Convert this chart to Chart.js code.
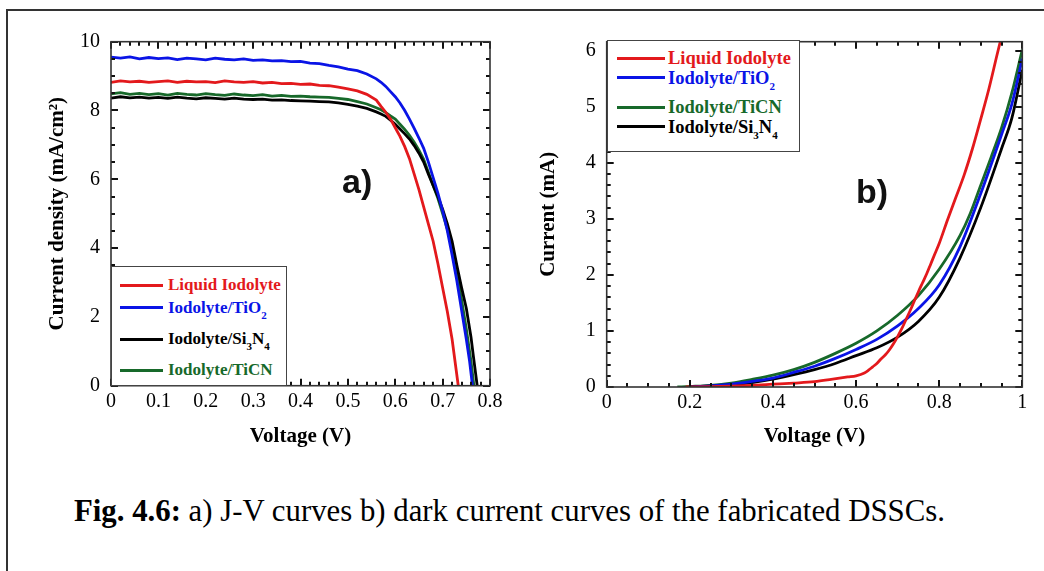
<!DOCTYPE html>
<html><head><meta charset="utf-8">
<script src="https://cdn.jsdelivr.net/npm/chart.js@4.4.0/dist/chart.umd.min.js"></script>
<style>
html,body{margin:0;padding:0;background:#fff;}
#page{position:relative;width:1044px;height:571px;overflow:hidden;background:#fff;}
#frame{position:absolute;left:6px;top:9px;width:1100px;height:600px;border-left:2px solid #333;border-top:2px solid #333;}
canvas{position:absolute;}
.lbox{position:absolute;border:1.5px solid #444;background:#fff;box-sizing:border-box;}
.sw{position:absolute;height:3px;}
.lt{position:absolute;font-family:'Liberation Serif','Times New Roman',serif;font-weight:bold;font-size:17px;line-height:20px;white-space:nowrap;}
.lt sub{font-size:11px;vertical-align:-6px;line-height:0;}
.tag{position:absolute;font-family:'Liberation Sans',Arial,sans-serif;font-weight:bold;font-size:34px;line-height:34px;color:#111;}
#cap{position:absolute;left:74px;top:494px;font-family:'Liberation Serif','Times New Roman',serif;font-size:30.8px;line-height:34px;white-space:nowrap;color:#000;}
</style></head>
<body><div id="page">
<div id="frame"></div>
<canvas id="ca" width="520" height="470" style="left:0;top:0"></canvas>
<canvas id="cb" width="524" height="470" style="left:520px;top:0"></canvas>
<div class="tag" style="left:342px;top:164px">a)</div>
<div class="tag" style="left:856px;top:174px">b)</div>
<div id="legA"></div>
<div id="legB"></div>
<div id="cap"><b>Fig. 4.6:</b> a) J-V curves b) dark current curves of the fabricated DSSCs.</div>
</div>
<script>
// ---------- Data: panel a) J-V curves ----------
const seriesNames = ['Liquid Iodolyte', 'Iodolyte/TiO2', 'Iodolyte/Si3N4', 'Iodolyte/TiCN'];
const seriesNamesHtml = ['Liquid Iodolyte', 'Iodolyte/TiO<sub>2</sub>', 'Iodolyte/Si<sub>3</sub>N<sub>4</sub>', 'Iodolyte/TiCN'];
const seriesColors = ['#e3191c', '#0a14e6', '#000000', '#17692a'];

const vFlat = [0,0.02,0.04,0.06,0.08,0.10,0.12,0.14,0.16,0.18,0.20,0.22,0.24,0.26,0.28,0.30,0.32,0.34,0.36,0.38,0.40,0.42,0.44,0.46,0.48,0.50,0.52,0.54,0.56];
const jFlatLiquid = [8.82,8.86,8.83,8.85,8.82,8.84,8.86,8.82,8.85,8.83,8.84,8.81,8.86,8.83,8.82,8.84,8.80,8.82,8.78,8.79,8.76,8.77,8.73,8.72,8.68,8.63,8.57,8.47,8.30];
const jFlatTiO2   = [9.55,9.52,9.56,9.50,9.54,9.51,9.53,9.48,9.52,9.50,9.47,9.52,9.49,9.47,9.50,9.46,9.47,9.44,9.45,9.42,9.43,9.38,9.36,9.31,9.27,9.20,9.16,9.06,8.92];
const jFlatSi3N4  = [8.36,8.40,8.37,8.39,8.36,8.38,8.35,8.39,8.36,8.34,8.37,8.35,8.33,8.36,8.33,8.32,8.33,8.30,8.31,8.29,8.28,8.27,8.26,8.25,8.22,8.18,8.13,8.06,7.96];
const jFlatTiCN   = [8.48,8.52,8.47,8.50,8.46,8.49,8.45,8.50,8.47,8.45,8.49,8.46,8.44,8.48,8.45,8.43,8.46,8.42,8.44,8.41,8.42,8.40,8.39,8.38,8.35,8.32,8.26,8.19,8.08];

const vKneeLiquid = [0.57,0.58,0.59,0.60,0.61,0.62,0.63,0.64,0.65,0.66,0.67,0.68,0.69,0.70,0.71,0.72,0.733];
const jKneeLiquid = [8.12,7.95,7.75,7.50,7.25,6.95,6.60,6.15,5.70,5.20,4.70,4.20,3.55,2.85,2.15,1.35,0];
const vKneeTiO2 = [0.57,0.58,0.59,0.60,0.61,0.62,0.63,0.64,0.65,0.66,0.67,0.68,0.69,0.70,0.71,0.72,0.73,0.74,0.75,0.757,0.763];
const jKneeTiO2 = [8.82,8.70,8.55,8.40,8.22,8.00,7.75,7.48,7.20,6.90,6.50,6.05,5.60,5.08,4.50,3.80,3.05,2.20,1.35,0.70,0];
const vKneeSi3N4 = [0.57,0.58,0.59,0.60,0.61,0.62,0.63,0.64,0.65,0.66,0.67,0.68,0.69,0.70,0.71,0.72,0.73,0.74,0.75,0.76,0.765,0.773];
const jKneeSi3N4 = [7.90,7.83,7.72,7.60,7.46,7.32,7.17,6.98,6.76,6.50,6.15,5.82,5.50,5.13,4.70,4.20,3.50,2.85,2.25,1.40,0.85,0];
const vKneeTiCN = [0.57,0.58,0.59,0.60,0.61,0.62,0.63,0.64,0.65,0.66,0.67,0.68,0.69,0.70,0.71,0.72,0.73,0.74,0.75,0.76,0.766];
const jKneeTiCN = [8.02,7.94,7.84,7.75,7.60,7.45,7.28,7.08,6.85,6.58,6.20,5.82,5.45,5.00,4.55,4.00,3.30,2.50,1.65,0.70,0];

// ---------- Data: panel b) dark current ----------
const vDarkLiquid = [0.19,0.25,0.3,0.35,0.4,0.45,0.5,0.54,0.58,0.6,0.62,0.63,0.64,0.65,0.66,0.67,0.68,0.69,0.70,0.71,0.72,0.73,0.74,0.75,0.76,0.77,0.78,0.79,0.80,0.82,0.84,0.86,0.88,0.90,0.92,0.94,0.955];
const iDarkLiquid = [0,0.005,0.015,0.03,0.05,0.07,0.095,0.135,0.18,0.2,0.25,0.3,0.36,0.42,0.5,0.57,0.66,0.77,0.9,1.04,1.2,1.36,1.53,1.7,1.86,2.02,2.2,2.38,2.56,2.98,3.38,3.78,4.25,4.78,5.33,5.95,6.4];
const vDarkTiO2 = [0.2,0.25,0.3,0.35,0.4,0.45,0.5,0.55,0.6,0.65,0.7,0.75,0.8,0.85,0.9,0.95,0.975,1.0];
const iDarkTiO2 = [0,0.02,0.05,0.1,0.16,0.26,0.37,0.51,0.67,0.85,1.09,1.4,1.82,2.5,3.45,4.5,5.05,5.86];
const vDarkSi3N4 = [0.2,0.25,0.3,0.35,0.4,0.45,0.5,0.55,0.6,0.65,0.7,0.75,0.8,0.85,0.9,0.95,0.975,1.0];
const iDarkSi3N4 = [0,0.02,0.04,0.08,0.14,0.22,0.31,0.42,0.56,0.7,0.89,1.17,1.6,2.3,3.2,4.25,4.8,5.66];
const vDarkTiCN = [0.17,0.2,0.25,0.3,0.35,0.4,0.45,0.5,0.55,0.6,0.65,0.7,0.75,0.8,0.85,0.875,0.9,0.925,0.95,0.975,1.0];
const iDarkTiCN = [0,0.01,0.03,0.07,0.135,0.21,0.31,0.44,0.6,0.78,1.0,1.28,1.63,2.1,2.7,3.1,3.6,4.1,4.62,5.25,6.02];

// ---------- Ticks ----------
const xTicksA = [0,0.1,0.2,0.3,0.4,0.5,0.6,0.7,0.8];
const xLabelsA = ['0','0.1','0.2','0.3','0.4','0.5','0.6','0.7','0.8'];
const yTicksA = [0,2,4,6,8,10];
const yLabelsA = ['0','2','4','6','8','10'];
const xTicksB = [0,0.2,0.4,0.6,0.8,1];
const xLabelsB = ['0','0.2','0.4','0.6','0.8','1'];
const yTicksB = [0,1,2,3,4,5,6];
const yLabelsB = ['0','1','2','3','4','5','6'];

const SERIF = "'Liberation Serif','Times New Roman',serif";

function pts(vs, ys){ return vs.map((v,i)=>({x:v,y:ys[i]})); }

function makeTicksPlugin(cfg){
  return {
    id:'innerTicks',
    afterDatasetsDraw(chart){
      const ctx = chart.ctx, a = chart.chartArea, x = chart.scales.x, y = chart.scales.y;
      ctx.save();
      ctx.strokeStyle = '#111';
      ctx.lineWidth = 2;
      ctx.lineCap = 'butt';
      const seg=(x1,y1,x2,y2)=>{ctx.beginPath();ctx.moveTo(x1,y1);ctx.lineTo(x2,y2);ctx.stroke();};
      const isMajor=(v,arr)=>arr.some(m=>Math.abs(m-v)<1e-6);
      const nx = Math.floor((x.max - x.min)/cfg.xMinor + 1e-6);
      for(let i=0;i<=nx;i++){
        const v = x.min + i*cfg.xMinor;
        const len = isMajor(v,cfg.xMajor)?cfg.majLen:cfg.minLen;
        const p = Math.round(x.getPixelForValue(v));
        seg(p,a.bottom,p,a.bottom-len); seg(p,a.top,p,a.top+len);
      }
      const ny = Math.floor((y.max - y.min)/cfg.yMinor + 1e-6);
      for(let i=0;i<=ny;i++){
        const v = y.min + i*cfg.yMinor;
        const len = isMajor(v,cfg.yMajor)?cfg.majLen:cfg.minLen;
        const p = Math.round(y.getPixelForValue(v));
        seg(a.left,p,a.left+len,p); seg(a.right,p,a.right-len,p);
      }
      ctx.strokeStyle = '#333';
      ctx.lineWidth = 1.6;
      ctx.strokeRect(a.left,a.top,a.right-a.left,a.bottom-a.top);
      ctx.restore();
    }
  };
}

function makeScale(opts){
  return {
    type:'linear', min:opts.min, max:opts.max,
    afterBuildTicks:s=>{s.ticks=opts.ticks.map(v=>({value:v}));},
    afterFit:s=>{ if(opts.width!==undefined) s.width=opts.width; if(opts.height!==undefined) s.height=opts.height; },
    grid:{display:false, drawTicks:false}, border:{display:false},
    ticks:{autoSkip:false,maxRotation:0,padding:opts.pad,color:'#000',font:{family:SERIF,size:20},callback:(v,i)=>opts.labels[i]},
    title:{display:true,text:opts.title,color:'#000',font:{family:SERIF,size:21,weight:'bold'},padding:opts.tpad}
  };
}

function lineDs(label, data, color, extra){
  return Object.assign({label, data, borderColor:color, backgroundColor:color, borderWidth:2.8, pointRadius:0, fill:false, tension:0}, extra||{});
}

new Chart(document.getElementById('ca'), {
  type:'line',
  data:{datasets:[
    lineDs(seriesNames[1], pts(vFlat.concat(vKneeTiO2), jFlatTiO2.concat(jKneeTiO2)), seriesColors[1]),
    lineDs(seriesNames[0], pts(vFlat.concat(vKneeLiquid), jFlatLiquid.concat(jKneeLiquid)), seriesColors[0]),
    lineDs(seriesNames[2], pts(vFlat.concat(vKneeSi3N4), jFlatSi3N4.concat(jKneeSi3N4)), seriesColors[2]),
    lineDs(seriesNames[3], pts(vFlat.concat(vKneeTiCN), jFlatTiCN.concat(jKneeTiCN)), seriesColors[3])
  ]},
  options:{
    responsive:false, animation:false, events:[],
    layout:{padding:{left:0,top:41.7,right:30,bottom:14.3}},
    plugins:{legend:{display:false},tooltip:{enabled:false}},
    scales:{
      x:makeScale({min:0,max:0.8,ticks:xTicksA,labels:xLabelsA,height:70,pad:4,title:'Voltage (V)',tpad:{top:0,bottom:6.4}}),
      y:makeScale({min:0,max:10,ticks:yTicksA,labels:yLabelsA,width:111,pad:11,title:'Current density (mA/cm²)',tpad:{top:45.4,bottom:0}})
    }
  },
  plugins:[makeTicksPlugin({xMinor:0.02,yMinor:0.5,xMajor:xTicksA,yMajor:yTicksA,majLen:7,minLen:4})]
});

new Chart(document.getElementById('cb'), {
  type:'line',
  data:{datasets:[
    lineDs(seriesNames[0], pts(vDarkLiquid, iDarkLiquid), seriesColors[0], {cubicInterpolationMode:'monotone'}),
    lineDs(seriesNames[1], pts(vDarkTiO2, iDarkTiO2), seriesColors[1], {cubicInterpolationMode:'monotone'}),
    lineDs(seriesNames[2], pts(vDarkSi3N4, iDarkSi3N4), seriesColors[2], {cubicInterpolationMode:'monotone'}),
    lineDs(seriesNames[3], pts(vDarkTiCN, iDarkTiCN), seriesColors[3], {cubicInterpolationMode:'monotone'})
  ]},
  options:{
    responsive:false, animation:false, events:[],
    layout:{padding:{left:0,top:41.7,right:21.7,bottom:13}},
    plugins:{legend:{display:false},tooltip:{enabled:false}},
    scales:{
      x:makeScale({min:0,max:1,ticks:xTicksB,labels:xLabelsB,height:70,pad:4,title:'Voltage (V)',tpad:{top:0,bottom:7.7}}),
      y:makeScale({min:0,max:6.16,ticks:yTicksB,labels:yLabelsB,width:86.7,pad:11,title:'Current (mA)',tpad:{top:15.7,bottom:0}})
    }
  },
  plugins:[makeTicksPlugin({xMinor:0.05,yMinor:0.2,xMajor:xTicksB,yMajor:yTicksB,majLen:7,minLen:4})]
});

// ---------- HTML legends (with subscripts) ----------
function buildLegend(el, box, order, rowsY, lineX1, lineX2, textX, fontSize){
  let h = `<div class="lbox" style="left:${box.l}px;top:${box.t}px;width:${box.w}px;height:${box.h}px"></div>`;
  order.forEach((k,i)=>{
    const yc = rowsY[i];
    h += `<div class="sw" style="left:${lineX1}px;top:${yc-1.5}px;width:${lineX2-lineX1}px;background:${seriesColors[k]}"></div>`;
    h += `<div class="lt" style="left:${textX}px;top:${yc-10}px;color:${seriesColors[k]};font-size:${fontSize}px">${seriesNamesHtml[k]}</div>`;
  });
  el.innerHTML = h;
}
buildLegend(document.getElementById('legA'), {l:111,t:266,w:176,h:120}, [0,1,2,3], [285,307.7,339,370], 120, 163, 168, 17);
buildLegend(document.getElementById('legB'), {l:606.7,t:40,w:193.3,h:112}, [0,1,3,2], [58,77.7,107,126.7], 616.7, 665, 668, 18.5);
</script>
</body></html>
